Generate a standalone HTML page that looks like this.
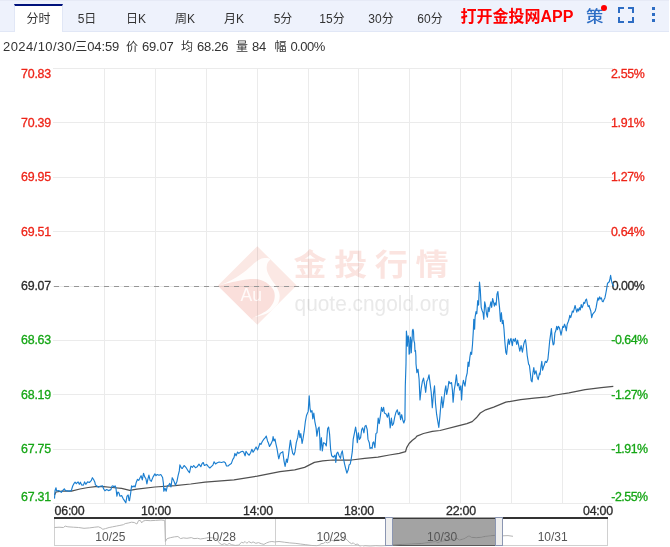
<!DOCTYPE html>
<html lang="zh"><head><meta charset="utf-8"><title>行情</title>
<style>
html,body{margin:0;padding:0;background:#fff}
body{width:670px;height:547px;overflow:hidden;position:relative;font-family:"Liberation Sans","Noto Sans CJK SC",sans-serif;color:#333}
.bar{position:absolute;left:0;top:0;width:669px;height:31px;background:#eef2fc;border-bottom:1px solid #e1e7f6;box-sizing:content-box}
.bar:before{content:"";position:absolute;left:0;top:0;width:669px;height:1px;background:#e6eaf6}
.tab{position:absolute;top:4px;width:48px;height:28px;line-height:30px;text-align:center;font-size:12px;color:#333}
.tab.act{background:#fff;border-top:2px solid #00127c;border-left:1px solid #e1e7f6;border-right:1px solid #e1e7f6;height:26px;line-height:27px;width:47px}
.app{position:absolute;left:460.5px;top:5.2px;height:24px;line-height:24px;font-size:16px;font-weight:bold;color:#ff0000;white-space:nowrap}
.ce{position:absolute;left:586.4px;top:4.6px;height:24px;line-height:24px;font-size:16px;font-weight:500;color:#2d6dc4;transform:scaleX(1.09);transform-origin:0 0}
.dot{position:absolute;left:600.8px;top:4.8px;width:6.5px;height:6.5px;border-radius:50%;background:#ff0000}
.info{position:absolute;left:0;top:37px;height:18px;width:400px;font-size:12px;line-height:18px;color:#333;white-space:nowrap}
.info span{position:absolute;top:0.7px}
.info span.n{font-size:13px;top:0.9px}
svg{position:absolute;left:0;top:0}
svg text{font-family:"Liberation Sans","Noto Sans CJK SC",sans-serif}
svg text.ax{font-size:12.4px;letter-spacing:-0.2px;stroke-width:0.3px}
</style></head><body>
<div class="bar"><div class="tab act" style="left:14px">分时</div><div class="tab" style="left:63px">5日</div><div class="tab" style="left:112px">日K</div><div class="tab" style="left:161px">周K</div><div class="tab" style="left:210px">月K</div><div class="tab" style="left:259px">5分</div><div class="tab" style="left:308px">15分</div><div class="tab" style="left:357px">30分</div><div class="tab" style="left:406px">60分</div>
<div class="app">打开金投网APP</div>
<div class="ce">策</div><div class="dot"></div>
<svg width="670" height="32" viewBox="0 0 670 32">
<path d="M619,13V8H624 M628,8H633V13 M633,17V22H628 M624,22H619V17" stroke="#2d6dc4" stroke-width="2" fill="none" shape-rendering="crispEdges"/>
<path d="M652,7h3v3h-3z M652,13h3v3h-3z M652,19h3v3h-3z" fill="#2d6dc4" shape-rendering="crispEdges"/>
</svg>
</div>
<div class="info"><span class="n" style="left:3.1px;letter-spacing:0.4px;">2024/10/30/</span><span style="left:75.3px;">三</span><span class="n" style="left:87.2px;letter-spacing:-0.1px;">04:59</span><span style="left:126px;">价</span><span class="n" style="left:142.1px;letter-spacing:-0.25px;">69.07</span><span style="left:181px;">均</span><span class="n" style="left:197.0px;letter-spacing:-0.25px;">68.26</span><span style="left:236px;">量</span><span class="n" style="left:252.0px;letter-spacing:-0.3px;">84</span><span style="left:274.5px;">幅</span><span class="n" style="left:290.4px;letter-spacing:-0.5px;">0.00%</span></div>
<svg width="670" height="547" viewBox="0 0 670 547">
<g id="wm">
<path d="M218,285.5 L257.3,246.2 L296.6,285.5 L257.3,324.8 Z" fill="#fbe8e4"/>
<path d="M218.4,285.9C220.4,285.3 226.4,283.6 230.5,282.6C234.6,281.6 239.1,280.6 243.0,280.0C246.9,279.4 250.7,279.0 253.9,279.1C257.0,279.1 259.3,279.5 261.6,280.3C264.0,281.1 265.9,282.2 267.8,283.7C269.8,285.3 272.1,287.6 273.3,289.6C274.4,291.6 274.8,293.6 274.8,295.8C274.8,298.0 274.4,300.5 273.3,302.8C272.1,305.2 270.0,307.9 267.8,309.8C265.6,311.8 262.5,313.2 260.1,314.5C257.6,315.8 254.4,317.1 253.2,317.6L252.0,319.5 L218.1,285.9 Z" fill="#fadfdb"/>
<path d="M218.4,285.9C219.4,285.5 222.0,284.6 224.3,283.6C226.6,282.5 229.5,281.3 232.1,279.8C234.7,278.4 237.5,276.6 239.9,275.0C242.2,273.4 244.0,272.0 246.1,270.4C248.2,268.7 250.0,266.8 252.3,264.9C254.6,263.0 257.6,260.3 260.1,259.2C262.5,258.0 265.3,258.0 267.1,258.1C268.8,258.1 269.8,259.2 270.3,259.5C269.8,260.2 267.8,262.1 267.2,264.0C266.7,265.9 266.4,268.5 267.1,271.0C267.7,273.4 269.4,276.2 270.9,278.7C272.5,281.3 275.0,283.9 276.4,286.5C277.8,289.1 279.1,291.7 279.5,294.3C279.9,296.9 279.6,299.7 278.7,302.1C277.8,304.4 276.1,306.3 274.1,308.3C272.0,310.2 269.8,312.2 266.3,313.7C262.8,315.3 255.4,316.9 253.2,317.6C254.4,317.1 257.6,315.8 260.1,314.5C262.5,313.2 265.6,311.8 267.8,309.8C270.0,307.9 272.1,305.2 273.3,302.8C274.4,300.5 274.8,298.0 274.8,295.8C274.8,293.6 274.4,291.6 273.3,289.6C272.1,287.6 269.8,285.3 267.8,283.7C265.9,282.2 264.0,281.1 261.6,280.3C259.3,279.5 257.0,279.1 253.9,279.1C250.7,279.0 246.9,279.4 243.0,280.0C239.1,280.6 234.6,281.6 230.5,282.6C226.4,283.6 220.4,285.3 218.4,285.9Z" fill="#fffdfc"/>
<text x="251.2" y="300.6" font-family='"Liberation Sans",sans-serif' font-size="17.5" fill="#fffaf9" text-anchor="middle">Au</text>
<g transform="translate(293.5,275.2) scale(1.12,1)"><text x="0" y="0" font-family='"Noto Sans CJK SC","Liberation Sans",sans-serif' font-weight="bold" font-size="29.5" letter-spacing="6.8" fill="#fbe4e0">金投行情</text></g>
<text x="294.6" y="310.8" font-family='"Liberation Sans",sans-serif' font-size="22" fill="#e9e9e9" textLength="155.3" lengthAdjust="spacingAndGlyphs">quote.cngold.org</text>
</g>
<path d="M53,68.5H613M53,122.5H613M53,177.5H613M53,231.5H613M53,286.5H613M53,340.5H613M53,394.5H613M53,449.5H613M53,503.5H613M104.5,68.5V503.5M155.5,68.5V503.5M206.5,68.5V503.5M257.5,68.5V503.5M308.5,68.5V503.5M358.5,68.5V503.5M409.5,68.5V503.5M460.5,68.5V503.5M511.5,68.5V503.5M562.5,68.5V503.5" stroke="#000" stroke-opacity="0.08" stroke-width="1" fill="none" shape-rendering="crispEdges"/>
<path d="M54,286.5H610" stroke="#969696" stroke-width="1" stroke-dasharray="5,5" fill="none" shape-rendering="crispEdges"/>
<text class="ax" x="21" y="77.8" fill="#ee2418" stroke="#ee2418">70.83</text>
<text class="ax" x="611" y="77.8" fill="#ee2418" stroke="#ee2418" style="letter-spacing:-0.35px">2.55%</text>
<text class="ax" x="21" y="126.875" fill="#ee2418" stroke="#ee2418">70.39</text>
<text class="ax" x="611" y="126.875" fill="#ee2418" stroke="#ee2418" style="letter-spacing:-0.35px">1.91%</text>
<text class="ax" x="21" y="181.25" fill="#ee2418" stroke="#ee2418">69.95</text>
<text class="ax" x="611" y="181.25" fill="#ee2418" stroke="#ee2418" style="letter-spacing:-0.35px">1.27%</text>
<text class="ax" x="21" y="235.625" fill="#ee2418" stroke="#ee2418">69.51</text>
<text class="ax" x="611" y="235.625" fill="#ee2418" stroke="#ee2418" style="letter-spacing:-0.35px">0.64%</text>
<text class="ax" x="21" y="290" fill="#2b2b2b" stroke="#2b2b2b">69.07</text>
<text class="ax" x="611.7" y="290" fill="#2b2b2b" stroke="#2b2b2b" style="letter-spacing:-0.5px">0.00%</text>
<text class="ax" x="21" y="344.375" fill="#16a616" stroke="#16a616">68.63</text>
<text class="ax" x="611.3" y="344.375" fill="#16a616" stroke="#16a616" style="letter-spacing:-0.5px">-0.64%</text>
<text class="ax" x="21" y="398.75" fill="#16a616" stroke="#16a616">68.19</text>
<text class="ax" x="611.3" y="398.75" fill="#16a616" stroke="#16a616" style="letter-spacing:-0.5px">-1.27%</text>
<text class="ax" x="21" y="453.125" fill="#16a616" stroke="#16a616">67.75</text>
<text class="ax" x="611.3" y="453.125" fill="#16a616" stroke="#16a616" style="letter-spacing:-0.5px">-1.91%</text>
<text class="ax" x="21" y="500.8" fill="#16a616" stroke="#16a616">67.31</text>
<text class="ax" x="611.3" y="500.8" fill="#16a616" stroke="#16a616" style="letter-spacing:-0.5px">-2.55%</text>
<path d="M54.5,495 L56,492 L61.9,491.2 L71.5,491.2 L79.9,489 L88.2,487.5 L95.4,486.6 L103.7,486.6 L112.1,487.5 L121.6,488.4 L129.8,490.4 L136.9,489.2 L154.9,487 L175.1,485.6 L190.7,484 L205,482.2 L234,479.9 L257.3,476.1 L280,471.6 L294.7,469.8 L304.6,467.4 L309.5,464.9 L314.4,462.4 L322.7,460.8 L332.6,460 L340,460 L351.5,460 L364.7,458.3 L377.9,457.2 L389.4,455 L399.3,453.4 L405.5,451.7 L406.7,447.6 L409.1,443.5 L412.4,440.2 L415.7,437.7 L416.9,436.2 L423.5,433.5 L432.3,431.3 L440,430.5 L456.1,426.4 L466.9,423.7 L472.2,421.6 L476.3,417.8 L480.3,413 L485.7,409.8 L493.7,407.1 L505.8,402.2 L520.6,399.6 L534,398.2 L547.5,396.9 L555.5,395 L569,392.8 L585.1,389.6 L601.2,387.7 L613.3,386.4" stroke="#505050" stroke-width="1.25" fill="none" stroke-linejoin="round"/>
<path d="M54.5,498.6 L55,490.8 L56,487.8 L56.6,490.8 L59,490.6 L61.3,492.3 L63.1,490.2 L64.3,488.8 L65.5,490.6 L69.1,491.1 L71.3,490.6 L72.7,486 L73.9,483.7 L75.1,482.2 L76.3,483.7 L78.1,481.9 L79.3,484.3 L80.4,482.2 L81.6,484.9 L83.4,485.1 L84.6,481.9 L85.8,484.3 L87.6,481.9 L89.4,482.5 L91.2,480.7 L92.4,477.7 L93.6,479.5 L94.8,481.9 L95.4,484.9 L97.2,486.3 L98.4,487.2 L100.1,486.3 L102.5,485.8 L103.7,489 L104.9,490.8 L106.7,489.6 L108.5,490.6 L110.9,489.6 L111.9,486.3 L113,485.8 L113.9,487 L115.1,485.8 L115.9,487.8 L116.9,496.2 L117.8,492 L119,493 L119.9,496.2 L121.6,495.6 L123.1,498.6 L124.3,500.4 L125.8,502.8 L127,496.2 L128.2,495 L129,500.4 L129.5,500.7 L130.7,493 L131.6,485.8 L132.8,487 L134,485.8 L135.1,487 L136.3,482.2 L137.5,479.3 L138.7,480.4 L139.9,478.1 L141.1,475.7 L142.3,479.9 L143.5,473.3 L144.7,476.9 L145.9,478.7 L146.9,484 L147.7,479.9 L148.9,475.1 L150.1,480.4 L151.3,481.3 L153.1,476.9 L154.9,473.9 L156,475.7 L157.2,474.5 L159,475.3 L160.8,474.5 L162.6,477.5 L163.4,483.4 L163.8,491.2 L165,488.2 L166.2,491.2 L167.4,485.8 L168.6,485.2 L169.8,483.4 L171,487 L172.2,477.7 L173.4,479.9 L174.6,482.8 L175.4,485.2 L176.9,481.6 L178.1,475.7 L179.3,470.9 L179.9,464.9 L181.4,467.9 L182.3,468.5 L184.1,465.5 L185.9,467.3 L187.7,470.3 L189.5,472.7 L190.9,466.1 L192.5,467.3 L193.7,465.5 L195.4,467.7 L197.2,466.7 L199,464.1 L200.8,466.7 L202,463.7 L203.2,462.5 L204.4,465.5 L206.6,464.4 L208.4,466.6 L209.8,468 L211.3,466.6 L212.9,465.1 L214.1,461.8 L215.5,463.9 L217.3,462.7 L219.1,462 L221.5,462.5 L223.9,461.8 L225.3,462.7 L226.5,466 L228.1,466 L229.9,464.4 L231.3,463.6 L232.8,459.4 L234,457.6 L234.9,453.4 L236.1,455.8 L237.6,452 L238.8,453.4 L240.6,452 L242.4,451.3 L243.6,452 L245.1,455.8 L246,451.3 L247.8,454 L249.2,455.2 L250.7,452.5 L251.9,449.3 L253.1,452.2 L254.7,449.6 L256.1,446.9 L257.6,449.9 L259.1,445.7 L259.9,443.3 L260.9,444.5 L262.3,441.5 L263.9,439.1 L265.1,437.9 L266.3,436.1 L267.5,440.9 L268.3,442.7 L269.5,446.5 L271,443.9 L272.6,440.3 L273.1,436.5 L274,440.9 L275,439.1 L275.8,443.3 L277,448.7 L278.2,455.8 L278.8,458.8 L280.2,453.4 L281.5,452.6 L282.8,451.7 L284,460.8 L285.1,466.5 L286.5,459.1 L287.3,462.4 L288.4,455.8 L289.4,447.6 L290.4,440.2 L291.4,446.8 L292.7,453.4 L293.9,455 L295,451.7 L296.3,442.7 L297.7,437.7 L298.8,430.3 L300,437.7 L300.8,433.6 L302.1,443.5 L302.9,439.4 L304.2,431.2 L305.4,421.3 L306.5,415.5 L308.2,411.4 L309.2,395.8 L310,408.1 L310.8,412.2 L312,410.6 L312.8,418.8 L313.8,413 L314.8,421.3 L316.1,427.9 L316.9,436.1 L318.1,428.7 L319.1,427 L319.9,439.4 L320.2,450.1 L321.4,437.7 L322.3,450.9 L323.5,442.7 L325.1,443.5 L326.3,446 L327.6,428.7 L328.6,427 L329.6,434.4 L330.6,449.3 L331.7,455.8 L333.4,457.2 L335,455 L335.8,462.4 L336.7,453.4 L337.8,452.2 L339.1,455.8 L340.5,458.3 L341.3,453.4 L342.3,450.9 L343.3,457.5 L344.6,464.1 L345.8,469 L346.9,473.1 L348.2,469.8 L349.1,464.9 L350.2,464.1 L351.2,459.1 L352.3,451.7 L353.2,439.4 L354.5,432.8 L355.6,427 L356.5,432.8 L357.3,442.7 L358.4,432.8 L359.4,439.4 L360.6,437.7 L361.7,429.5 L362.7,427.9 L363.9,432.8 L365,426.2 L366,425.4 L367.2,429.5 L368,439.4 L369.3,442.7 L370,448.4 L371.3,447.6 L372.1,448.4 L372.9,442.7 L373.7,441.9 L374.9,447.6 L375.9,433.6 L377,432.8 L378.2,418 L379.2,423.7 L380.3,416.3 L381.5,407.3 L382.5,411.4 L383.6,407.3 L384.4,413 L386.1,413.9 L387.4,417.2 L388.6,413 L389.4,418.8 L390.2,427.9 L391.4,418 L392.3,425.4 L393.5,423.7 L394.7,417.2 L396,412.2 L397.3,409.8 L398.4,414.7 L399.6,412.2 L400.6,419.6 L401.7,414.7 L402.7,419.7 L403.8,423 L404.9,419.7 L405.3,385.8 L406,363.8 L406.4,331.1 L406.9,336.6 L407.3,346.1 L407.7,341 L408.2,335.9 L408.8,340.3 L409.1,354.2 L409.7,353.4 L410.1,343.9 L410.4,337 L411,341 L411.3,352.7 L411.7,343.9 L412.1,340.3 L412.4,330.8 L413,329.3 L413.5,331.5 L413.9,340.3 L414.6,343.2 L415,351.3 L415.5,350.5 L415.9,356.4 L416,363.8 L416.9,372.6 L418,369.3 L419.1,379.2 L420,400 L421.3,387.9 L422.4,381.4 L423.5,378.1 L424.8,385.8 L425.7,392.3 L426.8,381.4 L427.9,379.2 L429,374.8 L430.1,383.6 L431.2,392.3 L432.3,407.7 L433.4,394.5 L434.5,385.8 L435.5,403.3 L436.6,414.2 L437.7,420.8 L438.8,427.4 L439.9,416.4 L441,403.3 L441.7,396.7 L442.8,407.7 L443.7,401.1 L445,390.1 L445.8,385.8 L446.7,394.5 L448,387.9 L448.9,381.4 L450.2,383.6 L451.5,382.5 L452.4,390.1 L453.1,402.2 L454.2,390.1 L455.3,383.6 L456.4,374.8 L457.5,385.8 L458.6,383.6 L459.7,390.1 L460.8,385.8 L461.6,400 L462.5,385.8 L463.4,380.3 L465,386.2 L466.1,377.4 L467.2,373 L468.1,362.1 L468.9,366.4 L469.8,357.7 L470.7,352.2 L471.6,354.4 L472.5,344.5 L473.3,331.4 L473.8,319.3 L474.6,329.2 L475.1,317.1 L476,311.6 L476.8,313.8 L477.7,300.7 L478.6,305.1 L479.5,282.1 L480.3,289.7 L481.2,307.3 L482.1,310.5 L483,312.7 L483.8,319.3 L484.7,301.8 L485.6,306.2 L486.5,313.8 L487.4,317.1 L488.2,307.3 L489.1,311.6 L490,306.2 L490.9,301.8 L491.7,307.3 L492.6,298.5 L493.5,301.8 L494.4,306.2 L495.2,302.9 L496.1,305.1 L497,294.1 L497.9,291.5 L498.8,300.7 L499.6,308.4 L500.5,321.5 L501.4,312.7 L502.3,323.7 L503.1,320.4 L504,329.2 L504.9,342.3 L505.8,352.2 L506.6,354.4 L507.5,345.6 L508.4,339 L509.3,344.5 L510.2,340.1 L511,338.4 L512.3,345.6 L513.2,339 L514.5,341.2 L515.4,338.4 L516.7,344.5 L517.6,340.1 L518.9,346.7 L519.8,351.1 L521.1,345.6 L522.4,352.2 L523.7,344.5 L524.6,341.2 L525.5,339.7 L526.4,346.7 L527.2,355.5 L528.6,364.2 L529.4,365.3 L530.3,373 L531.2,380.7 L532.1,381.8 L532.9,373 L533.8,367.5 L534.7,374.1 L536,370.8 L537.3,377.4 L538.2,379.6 L539.5,373 L540,374.6 L541.1,365.8 L541.8,361.4 L542.6,370.2 L543.5,366.9 L544.4,364.7 L545.3,361.4 L546.6,362.5 L547.9,359.2 L548.8,350.5 L549.6,341.7 L550.5,335.1 L551.4,328.6 L552.3,339.5 L553.2,345 L554,343.9 L554.9,332.9 L555.8,330.8 L556.7,326.4 L557.5,329.7 L558.4,326.4 L559.3,327.5 L560.2,330.8 L561,335.1 L561.9,330.8 L562.8,326.4 L563.7,327.5 L564.5,324.2 L565.4,326.4 L566.3,330.8 L567.2,324.2 L568.1,322 L568.9,319.8 L569.8,315.4 L570.7,317.6 L571.6,314.3 L572.4,311 L573.3,312.1 L574.2,308.8 L575.1,305.5 L575.9,308.8 L576.8,312.1 L577.7,308.8 L578.6,311 L579.5,307.7 L580.3,309.9 L581.2,304.5 L582.1,307.7 L583,305.5 L583.8,302.3 L584.7,303.4 L585.6,300.1 L586.5,299 L587.3,303.4 L588.2,306.6 L589.1,305.5 L590,308.8 L590.8,311 L591.7,317.6 L592.6,314.3 L593.5,313.2 L594.4,312.1 L595.2,311 L596.1,307.7 L597,302.3 L597.9,297.9 L598.7,300.1 L599.6,296.8 L600.5,299 L601.4,297.9 L602.2,301.2 L603.1,301.8 L604,299.6 L604.9,297.9 L605.8,293.5 L606.6,289.1 L607.5,283.4 L608.4,282.5 L609.3,281.7 L610.1,278.2 L610.6,275.3 L611.5,280.8 L612.3,283.8 L613.2,285.4 L613.9,286.3" stroke="#1a7ed0" stroke-width="1.15" fill="none" stroke-linejoin="round"/>
<text x="54.5" y="514.5" class="ax" fill="#2a2a2a" stroke="#2a2a2a">06:00</text>
<text x="156" y="514.5" class="ax" fill="#2a2a2a" stroke="#2a2a2a" text-anchor="middle">10:00</text>
<text x="258" y="514.5" class="ax" fill="#2a2a2a" stroke="#2a2a2a" text-anchor="middle">14:00</text>
<text x="359" y="514.5" class="ax" fill="#2a2a2a" stroke="#2a2a2a" text-anchor="middle">18:00</text>
<text x="461" y="514.5" class="ax" fill="#2a2a2a" stroke="#2a2a2a" text-anchor="middle">22:00</text>
<text x="613" y="514.5" class="ax" fill="#2a2a2a" stroke="#2a2a2a" text-anchor="end">04:00</text>
<rect x="54.5" y="518" width="553.0" height="27.5" fill="#fff" stroke="#d0d0d0" stroke-width="1"/>
<path d="M165.5,518V546" stroke="#d0d0d0" stroke-width="1" shape-rendering="crispEdges"/>
<path d="M275.5,518V546" stroke="#d0d0d0" stroke-width="1" shape-rendering="crispEdges"/>
<path d="M386.5,518V546" stroke="#d0d0d0" stroke-width="1" shape-rendering="crispEdges"/>
<path d="M496.5,518V546" stroke="#d0d0d0" stroke-width="1" shape-rendering="crispEdges"/>
<rect x="392" y="517" width="103.5" height="29" fill="#a3a3a3"/>
<path d="M392,545.5H495.5" stroke="#5a5a5a" stroke-width="1" shape-rendering="crispEdges"/>
<clipPath id="nc"><rect x="54" y="518" width="554" height="28.5"/></clipPath>
<path d="M54.5,527.5 L59,527.2 L63.4,527.5 L65.2,526.1 L67.9,526.8 L73.3,527.2 L78.7,527.5 L84,528.3 L89.4,527.9 L94.8,527.2 L98.4,526.8 L101,527.9 L102.8,529.3 L105.5,528.6 L109.1,527.5 L112.7,526.8 L116.3,526.1 L119.9,525.4 L123.4,524.7 L125.2,523.6 L128.8,522.9 L131.5,522.2 L134.2,522.5 L136.9,524 L138.7,520.4 L140.5,520.7 L141.7,522.9 L143.1,521.1 L145.8,520.4 L150.3,520.7 L155.7,520.4 L161.1,520 L164.3,520.4 L164.7,520.4 L165.4,541.5 L167.2,538.6 L170.7,537.6 L174.3,536.9 L177.9,536.5 L180.6,538.6 L183.3,537.9 L186.9,538.3 L191.3,537.6 L194,538.6 L197.6,538.3 L200.3,539 L204.8,538.3 L208.4,537.6 L213.7,537.9 L217,539.2 L219.1,542.8 L221.8,544.6 L224.5,543.7 L227.2,545.1 L229,543.3 L231.6,544.7 L235.2,545.4 L238.8,545.1 L241.5,542.2 L243.3,542.9 L245.1,541.5 L246.9,543.3 L248.7,541.5 L251.3,542.9 L253.1,541.9 L255.8,543.3 L258.5,542.6 L261.2,543.7 L263.9,544.4 L266.6,542.9 L269.3,541.9 L271.9,541.5 L274.6,541.9 L279,541.5 L284.3,542.2 L289.7,542.9 L295.1,543.3 L300.4,544 L305.8,544.7 L311.2,545.4 L316.6,545.8 L319.3,545.1 L321,543.7 L323.7,543.3 L325.5,541.9 L327.3,542.9 L330,541.9 L331.8,540.1 L334.5,541.2 L337.2,539.4 L339.9,540.1 L342.5,538.3 L345.2,538.6 L347,539.7 L348.8,541.9 L351.5,543.7 L353.3,542.8 L355.1,544.6 L357.8,544 L359.6,546.3 L362.2,547.6 L364.9,545.8 L370.3,546.5 L375.7,545.8 L381.1,546.2 L384.6,545.8 L392.1,544.9 L402.1,544.4 L411.6,543.9 L421.2,543.5 L428.4,542.5 L435.5,541.6 L437.9,542.5 L442.7,541.1 L447.5,540.1 L452.2,539.6 L457,538.2 L459.4,540.1 L464.2,538.7 L469,535.8 L471.3,537.3 L476.1,537.7 L480.9,537.3 L485.7,536.3 L490.4,535.8 L495.2,535.3 L503,535.8 L508,535.6 L513,536.3" stroke="#b5b5b5" stroke-width="1" fill="none" clip-path="url(#nc)"/>
<path d="M392.1,544.9 L402.1,544.4 L411.6,543.9 L421.2,543.5 L428.4,542.5 L435.5,541.6 L437.9,542.5 L442.7,541.1 L447.5,540.1 L452.2,539.6 L457,538.2 L459.4,540.1 L464.2,538.7 L469,535.8 L471.3,537.3 L476.1,537.7 L480.9,537.3 L485.7,536.3 L490.4,535.8 L495.2,535.3" stroke="#858585" stroke-width="1" fill="none"/>
<path d="M54,518H392M495,518H608" stroke="#333" stroke-width="2" fill="none" shape-rendering="crispEdges"/>
<path d="M392,518.5H495.5" stroke="#3a3a3a" stroke-width="1" fill="none" shape-rendering="crispEdges"/>
<rect x="385.5" y="517.5" width="7" height="28" fill="#eeeeee" stroke="#8b96b2" stroke-width="1"/>
<rect x="495.5" y="517.5" width="7" height="28" fill="#eeeeee" stroke="#8b96b2" stroke-width="1"/>
<text x="110.3" y="541" font-size="12" fill="#555" text-anchor="middle">10/25</text>
<text x="220.9" y="541" font-size="12" fill="#555" text-anchor="middle">10/28</text>
<text x="331.5" y="541" font-size="12" fill="#555" text-anchor="middle">10/29</text>
<text x="442.1" y="541" font-size="12" fill="#555" text-anchor="middle">10/30</text>
<text x="552.7" y="541" font-size="12" fill="#555" text-anchor="middle">10/31</text>
</svg>
</body></html>
